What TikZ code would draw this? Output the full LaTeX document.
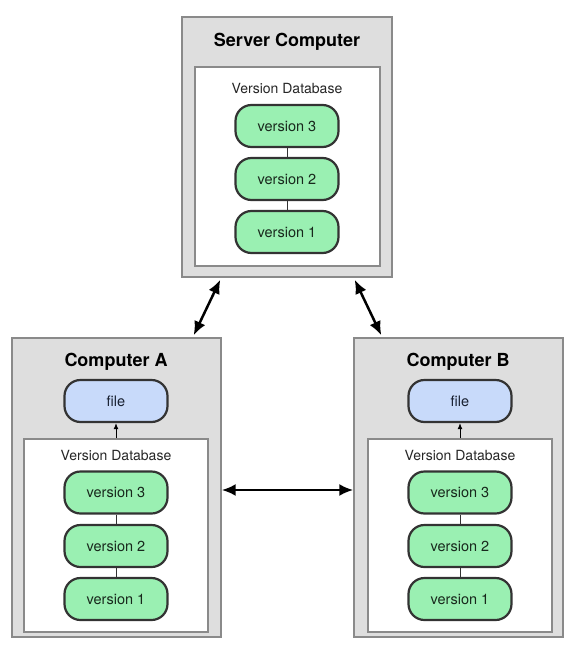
\documentclass[tikz,border=0pt]{standalone}
\usepackage{fontspec}
\setmainfont{TeX Gyre Heros}
\usetikzlibrary{arrows.meta}
\definecolor{boxgray}{HTML}{DEDEDE}
\definecolor{edgegray}{HTML}{8A8A8A}
\definecolor{pillgreen}{HTML}{9AF0B2}
\definecolor{pillblue}{HTML}{C8DAFA}
\definecolor{pilledge}{HTML}{333333}
\definecolor{txtgreen}{HTML}{18281C}
\definecolor{txtblue}{HTML}{182030}
\tikzset{
  machine/.style={draw=edgegray, fill=boxgray, line width=1.4pt, inner sep=0pt},
  dbbox/.style={draw=edgegray, fill=white, line width=1.4pt, inner sep=0pt},
  title/.style={font=\fontsize{18}{20}\selectfont\bfseries, text=black},
  dblabel/.style={font=\fontsize{14}{16}\selectfont, text=black!85},
  version/.style={draw=pilledge, fill=pillgreen, line width=2.2pt, rounded corners=16pt,
    minimum width=103pt, minimum height=42pt, inner sep=0pt, text=txtgreen,
    font=\fontsize{14.5}{16}\selectfont},
  filepill/.style={version, fill=pillblue, text=txtblue},
  link/.style={draw=pilledge, line width=1pt},
  sync/.style={line width=2.5pt, {Latex[length=14pt,width=12pt]}-{Latex[length=14pt,width=12pt]}},
  checkout/.style={line width=1pt, -{Latex[length=6pt,width=5pt]}}
}
\begin{document}
\begin{tikzpicture}[x=1pt,y=-1pt]
\useasboundingbox[fill=white] (0,0) rectangle (575,651);
% Server
\node[machine, minimum width=210pt, minimum height=260pt] (srv) at (287,147) {};
\node[dbbox, minimum width=185pt, minimum height=199pt] (srvdb) at (287.5,166.5) {};
\node[title] (srvt) at (287,42) {Server Computer};
\node[dblabel] (srvdbl) at (287,88) {Version Database};
\node[version] (s3) at (287,126) {version 3};
\node[version] (s2) at (287,179) {version 2};
\node[version] (s1) at (287,232) {version 1};
\draw[link] (s3) -- (s2);
\draw[link] (s2) -- (s1);
% Computer A
\node[machine, minimum width=209pt, minimum height=299pt] (ca) at (116.5,487.5) {};
\node[dbbox, minimum width=184pt, minimum height=193pt] (cadb) at (116,535.5) {};
\node[title] (cat) at (116,362) {Computer A};
\node[filepill] (afile) at (116,401) {file};
\node[dblabel] (cadbl) at (116,455) {Version Database};
\node[version] (a3) at (116,492.5) {version 3};
\node[version] (a2) at (116,546) {version 2};
\node[version] (a1) at (116,599) {version 1};
\draw[link] (a3) -- (a2);
\draw[link] (a2) -- (a1);
\draw[checkout] (cadb.north) -- (afile.south);
% Computer B
\node[machine, minimum width=209pt, minimum height=299pt] (cb) at (458.5,487.5) {};
\node[dbbox, minimum width=184pt, minimum height=193pt] (cbdb) at (460,535.5) {};
\node[title] (cbt) at (458,362) {Computer B};
\node[filepill] (bfile) at (460,401) {file};
\node[dblabel] (cbdbl) at (460,455) {Version Database};
\node[version] (b3) at (460,492.5) {version 3};
\node[version] (b2) at (460,546) {version 2};
\node[version] (b1) at (460,599) {version 1};
\draw[link] (b3) -- (b2);
\draw[link] (b2) -- (b1);
\draw[checkout] (cbdb.north) -- (bfile.south);
% sync arrows
\draw[sync] ([xshift=39pt,yshift=-2pt]srv.south west) -- ([xshift=-28pt,yshift=2pt]ca.north east);
\draw[sync] ([xshift=-38pt,yshift=-2pt]srv.south east) -- ([xshift=28pt,yshift=2pt]cb.north west);
\draw[sync] ([yshift=-2.5pt]ca.east) -- ([yshift=-2.5pt]cb.west);
\end{tikzpicture}
\end{document}
